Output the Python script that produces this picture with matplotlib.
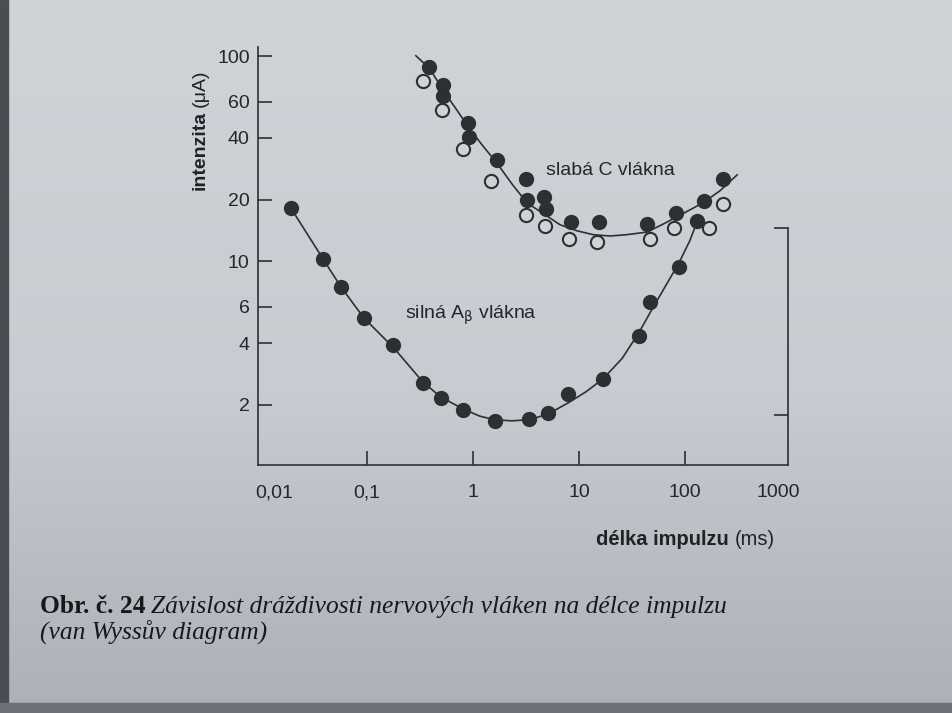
import matplotlib.pyplot as plt
import numpy as np
from matplotlib.ticker import NullLocator
from matplotlib.patches import Rectangle

# strong A-beta fibres (filled dots) and their fitted curve
ab_x = [0.0192, 0.0387, 0.0565, 0.0937, 0.177, 0.340, 0.496, 0.810, 1.61,
        3.40, 5.07, 7.93, 16.9, 37.0, 46.8, 88.4, 131]
ab_y = [18.2, 10.3, 7.48, 5.32, 3.92, 2.56, 2.15, 1.89, 1.67,
        1.70, 1.82, 2.26, 2.67, 4.34, 6.37, 9.37, 15.7]
ab_fit_x = [0.0192, 0.0385, 0.0569, 0.0937, 0.180, 0.338, 0.499, 0.805, 1.16,
            1.61, 2.33, 3.38, 5.10, 7.87, 11.6, 16.8, 25.5, 36.8, 46.8,
            64.8, 87.7, 111, 130]
ab_fit_y = [18.2, 10.3, 7.51, 5.30, 3.78, 2.58, 2.18, 1.91, 1.76,
            1.69, 1.67, 1.69, 1.80, 2.04, 2.31, 2.67, 3.36, 4.50, 5.61,
            7.51, 9.83, 12.6, 15.6]

# weak C fibres: filled dots, open circles, fitted curve
c_full_x = [0.387, 0.518, 0.518, 0.903, 0.923, 1.69, 3.16, 3.21, 4.68, 4.85,
            8.35, 15.4, 44.1, 82.2, 151, 230]
c_full_y = [88.6, 72.6, 63.7, 47.5, 40.4, 31.3, 25.2, 19.95, 20.7, 18.0,
            15.6, 15.5, 15.2, 17.3, 19.8, 25.2]
c_open_x = [0.335, 0.507, 0.80, 1.47, 3.16, 4.78, 8.13, 14.7, 46.8, 78.7, 170, 230]
c_open_y = [75.4, 54.8, 35.4, 24.7, 16.9, 14.95, 12.9, 12.4, 12.8, 14.5, 14.6, 19.0]
c_fit_x = [0.290, 0.393, 0.521, 0.692, 0.917, 1.24, 1.68, 2.33, 3.23, 4.78,
           6.62, 9.58, 13.6, 19.6, 28.4, 43.8, 60.7, 84.1, 148, 214, 310]
c_fit_y = [100.6, 86.9, 68.6, 55.5, 44.8, 36.6, 30.2, 23.9, 19.3, 16.9,
           15.1, 14.1, 13.5, 13.3, 13.5, 13.9, 15.1, 16.5, 19.3, 22.1, 26.4]

y_ticks = [2, 4, 6, 10, 20, 40, 60, 100]
x_ticks = [0.1, 1, 10, 100]
x_ticklabels = ['0,1', '1', '10', '100']

ink = '#2e2f33'
plt.rcParams['font.family'] = ['Liberation Sans', 'DejaVu Sans']

fig = plt.figure(figsize=(9.53, 7.13), dpi=100)

# paper background (photo of a book page)
bg = fig.add_axes([0, 0, 1, 1], zorder=-10)
top = np.array([208, 211, 216]) / 255
mid = np.array([200, 204, 210]) / 255
bot = np.array([172, 176, 183]) / 255
t = np.linspace(0, 1, 200)[:, None]
grad = np.where(t < 0.55, top + (mid - top) * (t / 0.55), mid + (bot - mid) * ((t - 0.55) / 0.45))
bg.imshow(grad[:, None, :], aspect='auto', extent=[0, 1, 0, 1], origin='upper')
bg.set_xlim(0, 1)
bg.set_ylim(0, 1)
bg.axis('off')
fig.patches.append(Rectangle((0, 0), 8 / 953, 1, transform=fig.transFigure,
                             color='#4b4d53', zorder=-5))
fig.patches.append(Rectangle((0, 0), 1, 10 / 713, transform=fig.transFigure,
                             color='#6d7077', zorder=-5))

ax = fig.add_axes([258 / 953, 1 - 465 / 713, 530 / 953, 418 / 713])
ax.set_facecolor('none')
ax.set_xscale('log')
ax.set_yscale('log')
ax.set_xlim(0.0094, 937)
ax.set_ylim(1.017, 111)

# curves and points
ax.plot(ab_fit_x, ab_fit_y, color=ink, lw=1.2, zorder=2)
ax.plot(c_fit_x, c_fit_y, color=ink, lw=1.2, zorder=2)
ax.plot(ab_x, ab_y, 'o', color=ink, ms=10, zorder=3)
ax.plot(c_full_x, c_full_y, 'o', color=ink, ms=10, zorder=3)
ax.plot(c_open_x, c_open_y, 'o', mfc='#cfd2d7', mec=ink, mew=1.5, ms=9.5, zorder=3)

# axes styling
ax.spines['top'].set_visible(False)
for s in ['left', 'bottom', 'right']:
    ax.spines[s].set_color(ink)
    ax.spines[s].set_linewidth(1.2)
ax.spines['right'].set_bounds(1.017, 14.5)

ax.set_yticks(y_ticks)
ax.set_yticklabels([str(v) for v in y_ticks])
ax.set_xticks(x_ticks)
ax.set_xticklabels(x_ticklabels)
ax.xaxis.set_minor_locator(NullLocator())
ax.yaxis.set_minor_locator(NullLocator())
ax.tick_params(axis='both', direction='in', length=10, width=1.2, colors=ink,
               labelsize=14, labelcolor='#25262a')
ax.tick_params(axis='x', pad=14)
ax.tick_params(axis='y', pad=6)

# right axis: two inward ticks, no labels
rax = ax.twinx()
rax.set_yscale('log')
rax.set_ylim(ax.get_ylim())
rax.set_yticks([1.78, 14.5])
rax.yaxis.set_minor_locator(NullLocator())
rax.set_yticklabels([])
rax.tick_params(axis='y', direction='in', length=10, width=1.2, colors=ink)
for s in ['top', 'left', 'bottom', 'right']:
    rax.spines[s].set_visible(False)

# end labels of the x axis
ax.annotate('0,01', xy=(0.0133, 0), xycoords=('data', 'axes fraction'),
            xytext=(0, -14), textcoords='offset points', ha='center', va='top',
            fontsize=14, color='#25262a')
ax.annotate('1000', xy=(754, 0), xycoords=('data', 'axes fraction'),
            xytext=(0, -14), textcoords='offset points', ha='center', va='top',
            fontsize=14, color='#25262a')

# curve labels
ax.text(19.6, 27.9, 'slabá C vlákna', ha='center', va='center',
        fontsize=14, color='#25262a')
ax.text(0.957, 5.24, r'silná A$_{\mathrm{\beta}}$ vlákna', ha='center', va='baseline',
        fontsize=14, color='#25262a')

# axis titles: bold word + regular unit
ty = fig.text(200 / 953, 1 - 190 / 713, 'intenzita', rotation=90, ha='center',
              va='bottom', fontsize=14, fontweight='bold', color='#202125')
ax.annotate('(μA)', xy=(0.5, 1), xycoords=ty, xytext=(0, 3), textcoords='offset points',
            rotation=90, ha='center', va='bottom', fontsize=14, color='#202125',
            annotation_clip=False)
tx = fig.text(596 / 953, 1 - 545 / 713, 'délka impulzu', ha='left', va='baseline',
              fontsize=14.5, fontweight='bold', color='#202125')
ax.annotate('(ms)', xy=(1, 0), xycoords=tx, xytext=(4, 0), textcoords='offset points',
            ha='left', va='bottom', fontsize=14.5, color='#202125', annotation_clip=False)

# caption
serif = ['Liberation Serif', 'DejaVu Serif']
c1 = fig.text(40 / 953, 1 - 613 / 713, 'Obr. č. 24', ha='left', va='baseline',
              fontsize=18.4, fontweight='bold', family=serif, color='#17181b')
ax.annotate('Závislost dráždivosti nervových vláken na délce impulzu', xy=(1, 0),
            xycoords=c1, xytext=(4, 0), textcoords='offset points', ha='left',
            va='bottom', fontsize=18.4, fontstyle='italic', family=serif,
            color='#17181b', annotation_clip=False)
fig.text(40 / 953, 1 - 639 / 713, '(van Wyssův diagram)', ha='left', va='baseline',
         fontsize=18.4, fontstyle='italic', family=serif, color='#17181b')

fig.savefig('out.png', dpi=100)
